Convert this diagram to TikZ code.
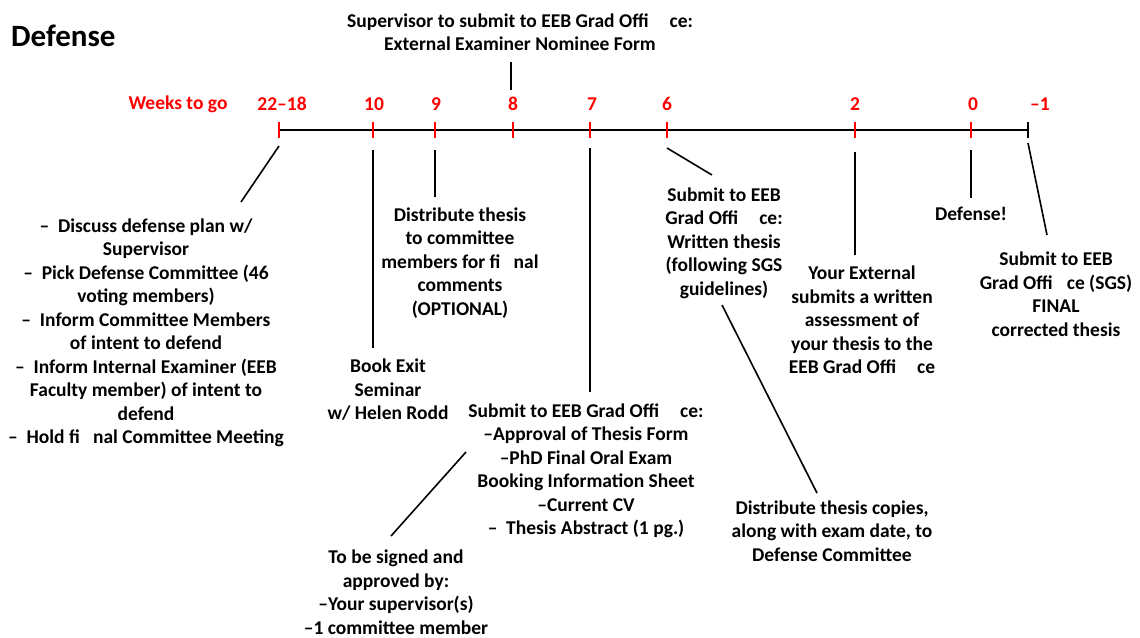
\documentclass[tikz,border=0pt]{standalone}
\usepackage{fontspec}
\setmainfont{Carlito}
\newcommand\gp{\hspace{0.85em}}
\newcommand\gs{\hspace{0.45em}}
\begin{document}
\begin{tikzpicture}[x=1pt,y=-1pt,
  txt/.style={align=center, inner sep=0pt, font=\fontsize{19.5}{23.5}\selectfont\bfseries},
  wk/.style={txt, text=red, font=\fontsize{19.5}{23.5}\selectfont\bfseries},
  tk/.style={red, line width=2.6pt},
  ax/.style={black, line width=2.6pt},
  cn/.style={black, line width=1.6pt}]
\useasboundingbox (0,0) rectangle (1140,637);
% title
\node[txt, font=\fontsize{31}{32}\selectfont\bfseries, anchor=west] (title) at (11,36) {Defense};
% timeline
\coordinate (t22) at (279,130);
\coordinate (t10) at (373,130);
\coordinate (t9) at (435,130);
\coordinate (t8) at (513,130);
\coordinate (t7) at (590,130);
\coordinate (t6) at (667,130);
\coordinate (t2) at (855,130);
\coordinate (t0) at (971,130);
\coordinate (tm1) at (1028,130);
\draw[ax] (t22) -- (tm1);
\foreach \t in {t22,t10,t9,t8,t7,t6,t2,t0}{\draw[tk] (\t) ++(0,-8) -- ++(0,16);}
\draw[ax] (tm1) ++(0,-8) -- ++(0,16);
% week labels
\node[wk] (lw) at (178,104) {Weeks to go};
\node[wk] (l22) at (282,104) {22–18};
\node[wk] (l10) at (374,104) {10};
\node[wk] (l9) at (436,104) {9};
\node[wk] (l8) at (513,104) {8};
\node[wk] (l7) at (592,104) {7};
\node[wk] (l6) at (667,104) {6};
\node[wk] (l2) at (855,104) {2};
\node[wk] (l0) at (973,104) {0};
\node[wk] (lm1) at (1040,104) {–1};
% top note
\node[txt] (n8) at (520,32) {Supervisor to submit to EEB Grad Offi \gp ce:\\External Examiner Nominee Form};
\coordinate (a8) at (511,62); \coordinate (b8) at (511,90);
\draw[cn] (a8) -- (b8);
% 22-18
\node[txt] (n22) at (146,333) {–\gs Discuss defense plan w/\\Supervisor\\–\gs Pick Defense Committee (46\\voting members)\\–\gs Inform Committee Members\\of intent to defend\\–\gs Inform Internal Examiner (EEB\\Faculty member) of intent to\\defend\\–\gs Hold fi \gs nal Committee Meeting};
\coordinate (a22) at (279,146); \coordinate (b22) at (241,202);
\draw[cn] (a22) -- (b22);
% 10
\node[txt] (n10) at (388,390) {Book Exit\\Seminar\\w/ Helen Rodd};
\coordinate (a10) at (373,150); \coordinate (b10) at (373,348);
\draw[cn] (a10) -- (b10);
% 9
\node[txt] (n9) at (460,263) {Distribute thesis\\to committee\\members for fi \gs nal\\comments\\(OPTIONAL)};
\coordinate (a9) at (435,150); \coordinate (b9) at (435,197);
\draw[cn] (a9) -- (b9);
% 7
\node[txt] (n7) at (586,471) {Submit to EEB Grad Offi \gp ce:\\–Approval of Thesis Form\\–PhD Final Oral Exam\\Booking Information Sheet\\–Current CV\\–\gs Thesis Abstract (1 pg.)};
\coordinate (a7) at (590,148); \coordinate (b7) at (590,392);
\draw[cn] (a7) -- (b7);
\node[txt] (ns) at (396,592) {To be signed and\\approved by:\\–Your supervisor(s)\\–1 committee member};
\coordinate (as) at (466,452); \coordinate (bs) at (391,536);
\draw[cn] (as) -- (bs);
% 6
\node[txt] (n6) at (724,243) {Submit to EEB\\Grad Offi \gp ce:\\Written thesis\\(following SGS\\guidelines)};
\coordinate (a6) at (667,148); \coordinate (b6) at (712,175);
\draw[cn] (a6) -- (b6);
\node[txt] (nd) at (832,531) {Distribute thesis copies,\\along with exam date, to\\Defense Committee};
\coordinate (ad) at (722,305); \coordinate (bd) at (817,493);
\draw[cn] (ad) -- (bd);
% 2
\node[txt] (n2) at (862,320) {Your External\\submits a written\\assessment of\\your thesis to the\\EEB Grad Offi \gp ce};
\coordinate (a2) at (855,152); \coordinate (b2) at (855,255);
\draw[cn] (a2) -- (b2);
% 0
\node[txt] (n0) at (971,214) {Defense!};
\coordinate (a0) at (971,150); \coordinate (b0) at (971,198);
\draw[cn] (a0) -- (b0);
% -1
\node[txt] (nm1) at (1056,294) {Submit to EEB\\Grad Offi \hspace{0.5em}ce (SGS)\\FINAL\\corrected thesis};
\coordinate (am1) at (1028,143); \coordinate (bm1) at (1047,235);
\draw[cn] (am1) -- (bm1);
\end{tikzpicture}
\end{document}
